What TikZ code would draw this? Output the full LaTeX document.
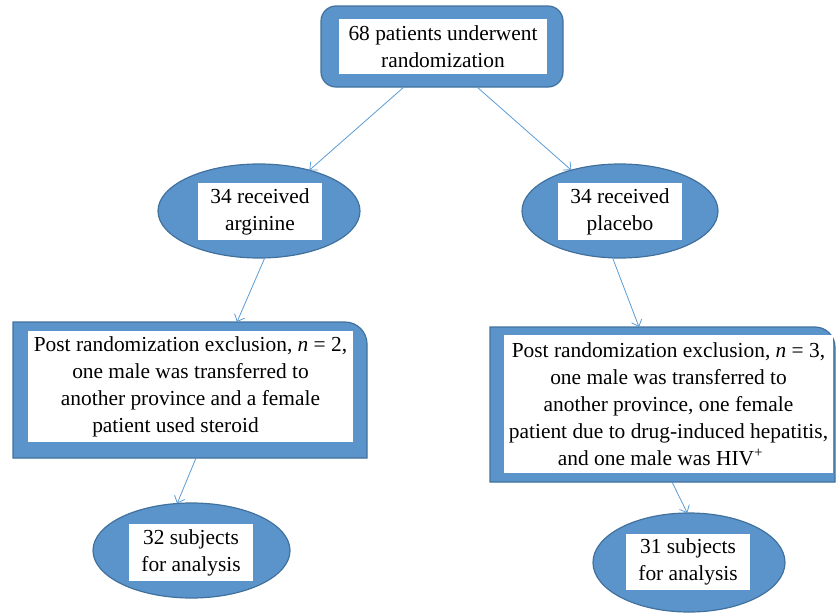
\documentclass[tikz,border=0pt]{standalone}
\usepackage{fontspec}
\setmainfont{Liberation Serif}
\usepackage{xcolor}
\usepackage{tikz}
\usetikzlibrary{arrows.meta,positioning,shapes.geometric,calc}
\definecolor{boxblue}{HTML}{5B93CB}
\definecolor{boxedge}{HTML}{41719C}
\definecolor{arrblue}{HTML}{5B9BD5}

\begin{document}
\begin{tikzpicture}[x=1pt, y=-1pt, >={Straight Barb[length=6pt,width=11pt]},
  every node/.style={font={\fontsize{21.4}{27}\selectfont}, inner sep=0pt, outer sep=0pt},
  bluefill/.style={fill=boxblue, draw=boxedge, line width=1.2pt},
  oval/.style={bluefill, ellipse},
  txtbox/.style={fill=white, align=center},
  link/.style={->, draw=arrblue, line width=0.8pt}]
  \useasboundingbox (0,0) rectangle (836,613);
  \node (rand) [bluefill, rounded corners=15pt, minimum width=242pt, minimum height=81pt] at (442,46.5) {};
  \node (randtxt) [txtbox, minimum width=208pt, minimum height=55pt] at (443,46.5) {68 patients underwent\\randomization};
  \node (arg) [oval, minimum width=202pt, minimum height=94pt] at (259,211) {};
  \node (argtxt) [txtbox, minimum width=124pt, minimum height=57pt] at (260,211.5) {34 received\\arginine};
  \node (plac) [oval, minimum width=196pt, minimum height=94pt] at (620,211) {};
  \node (plactxt) [txtbox, minimum width=124pt, minimum height=57pt] at (620,211.5) {34 received\\placebo};
  \node (exca) [minimum width=354pt, minimum height=136pt] at (190,390) {};
  \path[bluefill] (exca.south west) -- (exca.north west) [rounded corners=22pt] -- (exca.north east) [sharp corners] -- (exca.south east) -- cycle;
  \node (excatxt) [txtbox, minimum width=325pt, minimum height=111pt] at (190.5,386.5) {Post randomization exclusion, \textit{n} = 2,\\one male was transferred to\hspace*{34pt}\\another province and a female\hspace*{20pt}\\patient used steroid\hspace*{30pt}};
  \node (excp) [minimum width=345pt, minimum height=155pt] at (662.5,404.5) {};
  \path[bluefill] (excp.south west) -- (excp.north west) [rounded corners=20pt] -- (excp.north east) [sharp corners] -- (excp.south east) -- cycle;
  \node (excptxt) [txtbox, minimum width=329pt, minimum height=138pt] at (668.5,404) {Post randomization exclusion, \textit{n} = 3,\\one male was transferred to\hspace*{32pt}\\another province, one female\hspace*{22pt}\\patient due to drug-induced hepatitis,\\and one male was HIV\textsuperscript{+}\hspace*{16pt}};
  \node (anaa) [oval, minimum width=197pt, minimum height=95pt] at (191.5,550.5) {};
  \node (anaatxt) [txtbox, minimum width=124pt, minimum height=57pt] at (191,552.5) {32 subjects\\for analysis};
  \node (anap) [oval, minimum width=192pt, minimum height=99pt] at (689,562.5) {};
  \node (anaptxt) [txtbox, minimum width=124pt, minimum height=56pt] at (688,562) {31 subjects\\for analysis};
  \draw[link] ([xshift=-38pt]rand.south) -- (arg.39);
  \draw[link] ([xshift=35pt]rand.south) -- (plac.140);
  \draw[link] (arg.-83) -- ([xshift=47pt]exca.north);
  \draw[link] (plac.-99) -- ([xshift=-23.5pt]excp.north);
  \draw[link] ([xshift=6pt]exca.south) -- (anaa.107);
  \draw[link] ([xshift=9.5pt]excp.south) -- (anap.92);
\end{tikzpicture}
\end{document}
